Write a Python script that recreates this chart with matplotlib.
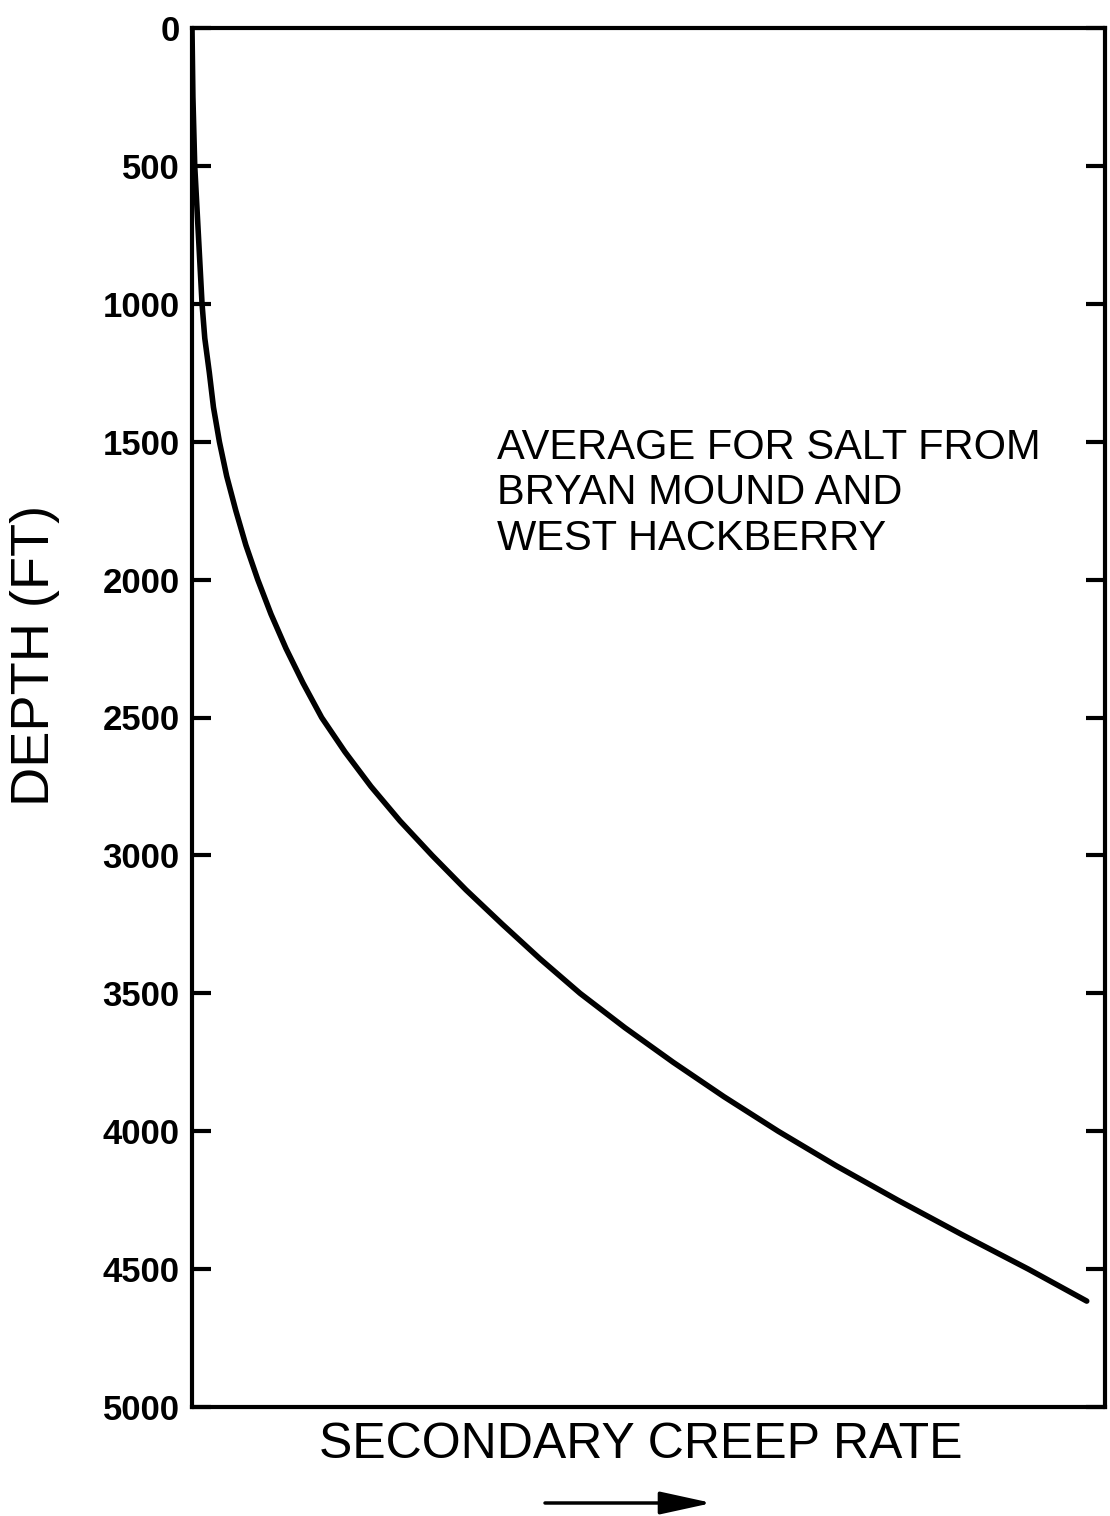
"""Secondary creep rate vs depth, average for salt from Bryan Mound and West Hackberry."""
import matplotlib as mpl
import matplotlib.pyplot as plt

mpl.rcParams.update({
    "font.family": ["Liberation Sans", "DejaVu Sans"],
    "axes.linewidth": 3.0,
})

# Curve (creep rate in relative units, 0..1 across the axis)
depth_ft = [0, 250, 500, 750, 1000, 1125, 1250, 1375, 1500, 1625,
            1750, 1875, 2000, 2125, 2250, 2375, 2500, 2625, 2750, 2875,
            3000, 3125, 3250, 3375, 3500, 3625, 3750, 3875, 4000, 4125,
            4250, 4375, 4500, 4616]
creep_rate = [0.000, 0.001, 0.003, 0.007, 0.011, 0.014, 0.019, 0.0235, 0.030, 0.038,
              0.048, 0.059, 0.072, 0.0865, 0.103, 0.1216, 0.142, 0.1676, 0.196, 0.2278,
              0.263, 0.3001, 0.340, 0.3812, 0.425, 0.4743, 0.527, 0.5827, 0.642, 0.7054,
              0.773, 0.8434, 0.916, 0.980]

depth_ticks = [0, 500, 1000, 1500, 2000, 2500, 3000, 3500, 4000, 4500, 5000]

note = "AVERAGE FOR SALT FROM\nBRYAN MOUND AND\nWEST HACKBERRY"

W, H = 1110, 1516
fig = plt.figure(figsize=(W / 100, H / 100), dpi=100)
ax = fig.add_axes([192 / W, 1 - 1407 / H, (1105 - 192) / W, (1407 - 28) / H])

ax.plot(creep_rate, depth_ft, color="black", lw=4.0, solid_capstyle="round",
        solid_joinstyle="round", zorder=3)

ax.set_xlim(0, 1)
ax.set_ylim(5000, 0)
ax.set_xticks([])
ax.set_yticks(depth_ticks)
ax.set_yticklabels([str(t) for t in depth_ticks], fontsize=25, fontweight="bold")
ax.tick_params(axis="y", direction="in", length=14, width=3, right=True,
               labelright=False, pad=9)

ax.text(0.334, 1450, note, fontsize=30, va="top", ha="left", linespacing=1.18)

fig.text(35 / W, 1 - 655 / H, "DEPTH (FT)", rotation=90, fontsize=39,
         ha="center", va="center")
fig.text(641 / W, 1 - 1445 / H, "SECONDARY CREEP RATE", fontsize=36,
         ha="center", va="center")

ax.annotate("", xy=(712 / W, 1 - 1503 / H), xytext=(545 / W, 1 - 1503 / H),
            xycoords="figure fraction", textcoords="figure fraction",
            arrowprops=dict(arrowstyle="-|>,head_length=1.6,head_width=0.35",
                            lw=2.5, color="black", mutation_scale=20,
                            shrinkA=0, shrinkB=0))

fig.savefig("out.png", dpi=100)
